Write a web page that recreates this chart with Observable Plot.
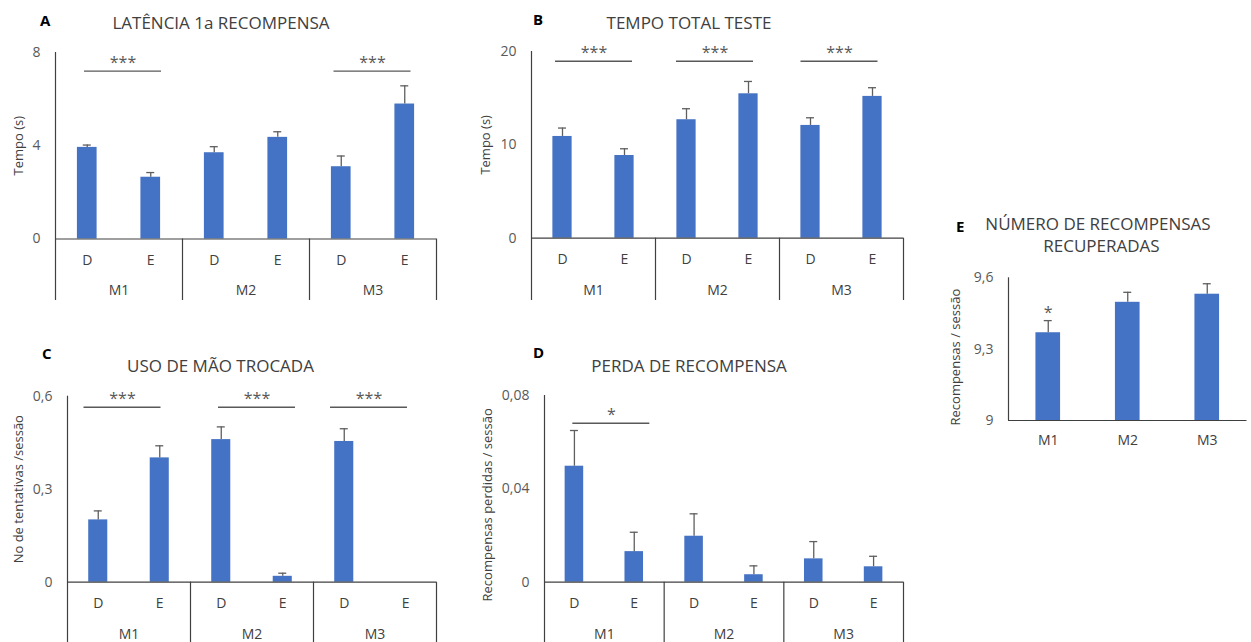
<!DOCTYPE html>
<html>
<head>
<meta charset="utf-8">
<script src="https://cdn.jsdelivr.net/npm/d3@7"></script>
<script src="https://cdn.jsdelivr.net/npm/@observablehq/plot@0.6"></script>
<style>
  body { margin: 0; background: #fff; }
  #fig { position: relative; width: 1251px; height: 642px; overflow: hidden; font-family: "Open Sans", sans-serif; background: #fff; }
  .letter { position: absolute; font-weight: bold; font-size: 15px; color: #000; transform: translateY(-50%); line-height: 1; }
  .title { position: absolute; font-size: 17px; color: #404040; transform: translate(-50%, -50%); white-space: nowrap; line-height: 1; }
  .panel { position: absolute; }
</style>
</head>
<body>
<div id="fig"></div>
<script>
// Categories
const groups = ["M1", "M2", "M3"];
const hands = ["D", "E"];
const handCats = ["D", "E", "D", "E", "D", "E"];

// A — latência até a 1a recompensa (s), ordem M1-D, M1-E, M2-D, M2-E, M3-D, M3-E
const latenciaMean = [3.93, 2.65, 3.70, 4.36, 3.10, 5.79];
const latenciaErr  = [0.10, 0.20, 0.26, 0.24, 0.46, 0.78];
const latenciaSig  = [["M1", "***"], ["M3", "***"]];
const latenciaTicks = [0, 4, 8];

// B — tempo total do teste (s)
const tempoMean = [10.9, 8.86, 12.69, 15.47, 12.08, 15.19];
const tempoErr  = [0.90, 0.72, 1.18, 1.32, 0.82, 0.93];
const tempoSig  = [["M1", "***"], ["M2", "***"], ["M3", "***"]];
const tempoTicks = [0, 10, 20];

// C — uso de mão trocada (tentativas / sessão)
const trocadaMean = [0.201, 0.401, 0.460, 0.019, 0.454, 0];
const trocadaErr  = [0.029, 0.039, 0.041, 0.010, 0.041, 0];
const trocadaSig  = [["M1", "***"], ["M2", "***"], ["M3", "***"]];
const trocadaTicks = [0, 0.3, 0.6];

// D — perda de recompensa (recompensas perdidas / sessão)
const perdaMean = [0.0497, 0.0131, 0.0197, 0.0032, 0.0100, 0.0066];
const perdaErr  = [0.0153, 0.0083, 0.0096, 0.0038, 0.0074, 0.0045];
const perdaSig  = [["M1", "*"]];
const perdaTicks = [0, 0.04, 0.08];

// E — número de recompensas recuperadas (recompensas / sessão)
const recupMean = [9.369, 9.497, 9.531];
const recupErr  = [0.051, 0.042, 0.044];
const recupSig  = [["M1", "*"]];
const recupTicks = [9, 9.3, 9.6];

const blue = "#4472C4";
const errColor = "#5f5f5f";
const axisColor = "#404040";
const sigColor = "#595959";
const textColor = "#404040";
const tickColor = "#595959";
const fmt = d => String(d).replace(".", ",");

const fig = document.getElementById("fig");

function addText(cls, text, left, top, extra = {}) {
  const el = document.createElement("div");
  el.className = cls;
  el.textContent = text;
  el.style.left = left + "px";
  el.style.top = top + "px";
  Object.assign(el.style, extra);
  fig.appendChild(el);
}

function panel(cfg) {
  const n = cfg.means.length;
  const rows = cfg.means.map((m, i) => ({i, cat: cfg.cats[i], mean: m, err: cfg.errs[i]}));
  const t = cfg.ticks;
  const y0 = t[0], yTop = t[t.length - 1];
  const plotH = cfg.base - cfg.top;
  const boxH = cfg.boxed ? cfg.bottom - cfg.base : 0;
  const yMin = y0 - (boxH / plotH) * (yTop - y0);
  const band = (cfg.right - cfg.axis) / n;
  const half = cfg.barWidth / 2;
  const cap = 4 / band;
  const withErr = rows.filter(d => d.err > 0);
  const height = cfg.bottom - cfg.svgTop;

  const marks = [
    Plot.rectY(rows, {x1: d => d.i + 0.5 - half, x2: d => d.i + 0.5 + half, y1: y0, y2: "mean", fill: blue}),
    Plot.ruleX(withErr, {x: d => d.i + 0.5, y1: "mean", y2: d => d.mean + d.err, stroke: errColor, strokeWidth: 1.3}),
    Plot.ruleY(withErr, {y: d => d.mean + d.err, x1: d => d.i + 0.5 - cap, x2: d => d.i + 0.5 + cap, stroke: errColor, strokeWidth: 1.3}),
    Plot.ruleY([y0], {x1: 0, x2: n, stroke: axisColor, strokeWidth: 1.2}),
    Plot.ruleX([0], {y1: yMin, y2: yTop, stroke: axisColor, strokeWidth: 1.2}),
    Plot.text(rows, {x: d => d.i + 0.5, y: y0, text: "cat", dy: cfg.catDy, fontSize: 14, fill: textColor}),
    Plot.text([cfg.label], {x: 0, y: (y0 + yTop) / 2, text: d => d, rotate: -90, dx: cfg.labelDx, dy: cfg.labelDy, fontSize: 13, fill: textColor})
  ];

  if (cfg.boxed) {
    // multi-level category box: group separators and group names
    marks.push(
      Plot.ruleX(groups.map((g, j) => 2 * (j + 1)), {y1: yMin, y2: y0, stroke: axisColor, strokeWidth: 1.2}),
      Plot.text(groups, {x: (d, j) => 2 * j + 1, y: y0, text: d => d, dy: cfg.groupDy, fontSize: 14, fill: textColor})
    );
    const halfSpan = 38.5 / band;
    const gx = d => 2 * groups.indexOf(d[0]) + 1;
    cfg.sig.forEach((s, k) => {
      const dx = cfg.sigDx[k] || 0;
      marks.push(
        Plot.ruleY([s], {y: cfg.sigY, x1: d => gx(d) - halfSpan, x2: d => gx(d) + halfSpan, dx, stroke: sigColor, strokeWidth: 1.4}),
        Plot.text([s], {x: gx, y: cfg.sigY, text: d => d[1], dx, dy: -8, fontSize: 16, fill: tickColor})
      );
    });
  } else {
    // significance star directly above the bar's error bar
    const row = g => rows[groups.indexOf(g)];
    marks.push(
      Plot.text(cfg.sig, {x: d => row(d[0]).i + 0.5, y: d => row(d[0]).mean + row(d[0]).err, text: d => d[1], dy: -8, fontSize: 16, fill: tickColor})
    );
  }

  const svg = Plot.plot({
    width: cfg.svgWidth,
    height,
    marginLeft: cfg.axis - cfg.svgLeft,
    marginRight: cfg.svgLeft + cfg.svgWidth - cfg.right,
    marginTop: cfg.top - cfg.svgTop,
    marginBottom: cfg.boxed ? 0 : cfg.bottom - cfg.base,
    style: {fontFamily: "Open Sans", fontSize: "14px", color: tickColor, background: "transparent", overflow: "visible"},
    x: {domain: [0, n], axis: null},
    y: {domain: [yMin, yTop], ticks: t, tickSize: 0, tickPadding: 15, tickFormat: fmt, label: null},
    marks
  });
  const wrap = document.createElement("div");
  wrap.className = "panel";
  wrap.style.left = cfg.svgLeft + "px";
  wrap.style.top = cfg.svgTop + "px";
  wrap.appendChild(svg);
  fig.appendChild(wrap);
}

const common = {cats: handCats, boxed: true, barWidth: 0.31, catDy: 21.5, groupDy: 52, labelDy: 0};

panel({...common, means: latenciaMean, errs: latenciaErr, sig: latenciaSig, ticks: latenciaTicks,
  label: "Tempo (s)", svgLeft: 0, svgTop: 40, svgWidth: 460, axis: 55, right: 436, top: 52, base: 238.5, bottom: 300,
  labelDx: -37, sigY: 7.2, sigDx: [4, -0.5]});

panel({...common, means: tempoMean, errs: tempoErr, sig: tempoSig, ticks: tempoTicks,
  label: "Tempo (s)", svgLeft: 460, svgTop: 40, svgWidth: 460, axis: 531, right: 903, top: 51, base: 237.7, bottom: 300,
  labelDx: -46, sigY: 18.96, sigDx: [0.5, -2.5, -2]});

panel({...common, means: trocadaMean, errs: trocadaErr, sig: trocadaSig, ticks: trocadaTicks,
  label: "No de tentativas /sessão", svgLeft: 0, svgTop: 380, svgWidth: 460, axis: 67, right: 436, top: 395.7, base: 581.7, bottom: 642,
  labelDx: -49, sigY: 0.5645, sigDx: [-6.5, 5, -6]});

panel({...common, means: perdaMean, errs: perdaErr, sig: perdaSig, ticks: perdaTicks,
  label: "Recompensas perdidas / sessão", svgLeft: 460, svgTop: 380, svgWidth: 460, axis: 544, right: 903, top: 395, base: 581.7, bottom: 642,
  labelDx: -57, labelDy: 16, sigY: 0.0681, sigDx: [7]});

panel({cats: groups, boxed: false, barWidth: 0.31, catDy: 20.5, means: recupMean, errs: recupErr, sig: recupSig, ticks: recupTicks,
  label: "Recompensas / sessão", svgLeft: 930, svgTop: 260, svgWidth: 321, axis: 1008, right: 1246.5, top: 277.3, base: 420, bottom: 460,
  labelDx: -53, labelDy: 8});

// Panel letters and titles
addText("letter", "A", 40, 20);
addText("title", "LATÊNCIA 1a RECOMPENSA", 221, 22);
addText("letter", "B", 533, 19);
addText("title", "TEMPO TOTAL TESTE", 689, 22);
addText("letter", "C", 42, 353);
addText("title", "USO DE MÃO TROCADA", 220.5, 365);
addText("letter", "D", 533, 352);
addText("title", "PERDA DE RECOMPENSA", 689, 365);
addText("letter", "E", 956, 226);
addText("title", "NÚMERO DE RECOMPENSAS", 1098, 223);
addText("title", "RECUPERADAS", 1101.5, 245);
</script>
</body>
</html>
